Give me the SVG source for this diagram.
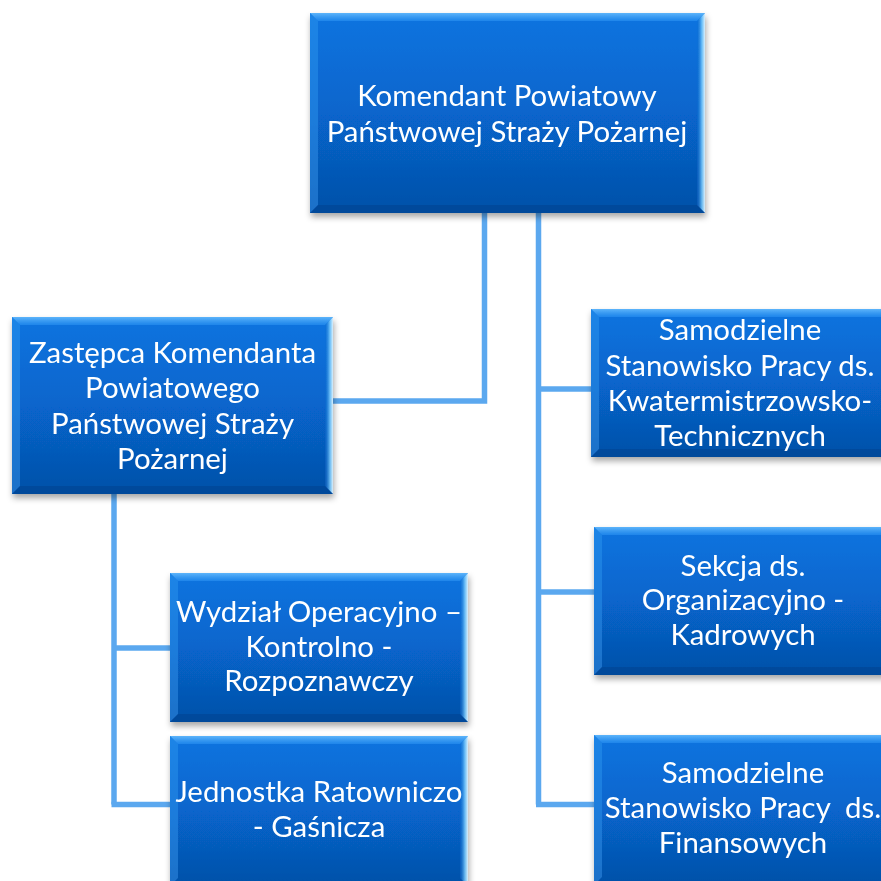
<svg xmlns="http://www.w3.org/2000/svg" width="881" height="881" viewBox="0 0 881 881">
<defs>
<linearGradient id="body" x1="0" y1="0" x2="0" y2="1">
<stop offset="0" stop-color="#0a74e0"/>
<stop offset="0.5" stop-color="#0765cc"/>
<stop offset="1" stop-color="#0550a8"/>
</linearGradient>
<linearGradient id="topb" x1="0" y1="0" x2="0" y2="1">
<stop offset="0" stop-color="#6cc0ff" stop-opacity="0.85"/>
<stop offset="1" stop-color="#2f95f5" stop-opacity="0.55"/>
</linearGradient>
<linearGradient id="rightb" x1="0" y1="0" x2="1" y2="0">
<stop offset="0" stop-color="#0a66cc" stop-opacity="0.3"/>
<stop offset="0.6" stop-color="#7fd0ff" stop-opacity="0.8"/>
<stop offset="1" stop-color="#e6f7ff" stop-opacity="0.95"/>
</linearGradient>
<filter id="sh" x="-10%" y="-10%" width="120%" height="125%">
<feDropShadow dx="1" dy="4" stdDeviation="3" flood-color="#000" flood-opacity="0.35"/>
</filter>
</defs>
<style>
.body{fill:url(#body)}
.tb{fill:url(#topb)}
.lb{fill:#3a98f0;fill-opacity:0.45}
.rb{fill:url(#rightb)}
.bb{fill:#033c80;fill-opacity:0.35}
.t{font-family:Lato,"Open Sans","Liberation Sans",sans-serif;font-size:29.4px;fill:#fff;text-anchor:middle}
.c{fill:none;stroke:#5ba8ef;stroke-width:5.5;stroke-linejoin:miter}
</style>
<rect width="881" height="881" fill="#ffffff"/>
<g id="connectors">
<path class="c" d="M484.5 213 V401 H333"/>
<path class="c" d="M538.5 213 V804.5"/>
<path class="c" d="M538.5 389 H591"/>
<path class="c" d="M538.5 592 H594"/>
<path class="c" d="M536 804.5 H594"/>
<path class="c" d="M114 494 V804.5"/>
<path class="c" d="M114 648 H170"/>
<path class="c" d="M111.5 804.5 H170"/>
</g>
<g id="n0" filter="url(#sh)">
<rect class="body" x="310" y="13" width="395" height="200"/>
<polygon class="tb" points="310,13 705,13 697,21 318,21"/>
<polygon class="lb" points="310,13 318,21 318,205 310,213"/>
<polygon class="rb" points="705,13 705,213 697,205 697,21"/>
<polygon class="bb" points="310,213 705,213 697,205 318,205"/>
<text class="t" x="507" y="106">Komendant Powiatowy</text>
<text class="t" x="507" y="142">Państwowej Straży Pożarnej</text>
</g>
<g id="n1" filter="url(#sh)">
<rect class="body" x="12" y="317" width="321" height="177"/>
<polygon class="tb" points="12,317 333,317 325,325 20,325"/>
<polygon class="lb" points="12,317 20,325 20,486 12,494"/>
<polygon class="rb" points="333,317 333,494 325,486 325,325"/>
<polygon class="bb" points="12,494 333,494 325,486 20,486"/>
<text class="t" x="172.5" y="363">Zastępca Komendanta</text>
<text class="t" x="172.5" y="398">Powiatowego</text>
<text class="t" x="172.5" y="434">Państwowej Straży</text>
<text class="t" x="172.5" y="469">Pożarnej</text>
</g>
<g id="n2" filter="url(#sh)">
<rect class="body" x="170" y="573" width="298" height="149"/>
<polygon class="tb" points="170,573 468,573 460,581 178,581"/>
<polygon class="lb" points="170,573 178,581 178,714 170,722"/>
<polygon class="rb" points="468,573 468,722 460,714 460,581"/>
<polygon class="bb" points="170,722 468,722 460,714 178,714"/>
<text class="t" x="319" y="622">Wydział Operacyjno –</text>
<text class="t" x="319" y="657">Kontrolno -</text>
<text class="t" x="319" y="691">Rozpoznawczy</text>
</g>
<g id="n3" filter="url(#sh)">
<rect class="body" x="170" y="736" width="298" height="150"/>
<polygon class="tb" points="170,736 468,736 460,744 178,744"/>
<polygon class="lb" points="170,736 178,744 178,878 170,886"/>
<polygon class="rb" points="468,736 468,886 460,878 460,744"/>
<text class="t" x="319" y="802">Jednostka Ratowniczo</text>
<text class="t" x="319" y="837">- Gaśnicza</text>
</g>
<g id="n4" filter="url(#sh)">
<rect class="body" x="591" y="309" width="298" height="148"/>
<polygon class="tb" points="591,309 889,309 881,317 599,317"/>
<polygon class="lb" points="591,309 599,317 599,449 591,457"/>
<polygon class="bb" points="591,457 889,457 881,449 599,449"/>
<text class="t" x="740" y="340">Samodzielne</text>
<text class="t" x="740" y="376">Stanowisko Pracy ds.</text>
<text class="t" x="740" y="411">Kwatermistrzowsko-</text>
<text class="t" x="740" y="446">Technicznych</text>
</g>
<g id="n5" filter="url(#sh)">
<rect class="body" x="594" y="527" width="298" height="148"/>
<polygon class="tb" points="594,527 892,527 884,535 602,535"/>
<polygon class="lb" points="594,527 602,535 602,667 594,675"/>
<polygon class="bb" points="594,675 892,675 884,667 602,667"/>
<text class="t" x="743" y="576">Sekcja ds.</text>
<text class="t" x="743" y="610">Organizacyjno -</text>
<text class="t" x="743" y="645">Kadrowych</text>
</g>
<g id="n6" filter="url(#sh)">
<rect class="body" x="594" y="735" width="298" height="150"/>
<polygon class="tb" points="594,735 892,735 884,743 602,743"/>
<polygon class="lb" points="594,735 602,743 602,877 594,885"/>
<text class="t" x="743" y="783">Samodzielne</text>
<text class="t" x="743" y="818" xml:space="preserve">Stanowisko Pracy  ds.</text>
<text class="t" x="743" y="853">Finansowych</text>
</g>
</svg>
